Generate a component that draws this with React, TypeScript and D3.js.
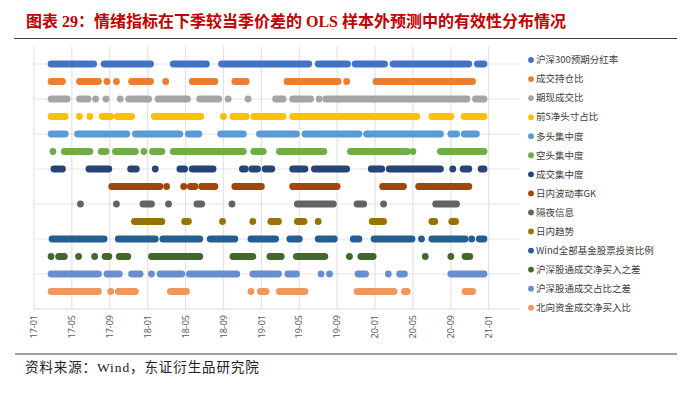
import * as d3 from 'd3';

// months counted from 2017-01; each pair is a run of consecutive effective dates [from, to]
const hs300Dividend = [[1.8, 6.3], [7.4, 12.3], [14.7, 18.2], [19.8, 29.0], [30.0, 33.1], [33.9, 37.0], [37.9, 45.9], [46.8, 47.5]];
const volumeOiRatio = [[1.8, 3.0], [4.8, 6.8], [7.7, 7.7], [8.7, 8.7], [10.3, 12.3], [13.9, 13.9], [16.7, 19.1], [21.2, 22.4], [26.7, 32.1], [33.0, 33.0], [36.1, 46.3]];
const futSpotRatio = [[1.8, 3.5], [4.8, 5.7], [6.5, 6.5], [7.6, 7.6], [9.1, 9.1], [10.0, 12.1], [13.1, 16.2], [17.5, 19.5], [20.5, 20.5], [22.6, 22.6], [25.5, 26.3], [27.3, 29.2], [30.1, 30.1], [30.8, 45.7], [46.6, 47.5]];
const top5NetShare = [[1.8, 3.3], [4.8, 4.8], [5.9, 5.9], [7.2, 8.1], [8.8, 10.3], [12.7, 17.6], [20.0, 20.0], [21.0, 22.4], [23.2, 26.3], [27.3, 40.4], [42.0, 44.0], [45.4, 47.5]];
const longConc = [[1.8, 3.3], [4.6, 9.8], [10.7, 15.4], [16.3, 17.4], [19.7, 22.1], [23.8, 27.7], [28.6, 34.3], [35.1, 42.9], [44.0, 44.6], [45.4, 46.7]];
const shortConc = [[2.0, 2.0], [3.2, 5.9], [7.1, 7.6], [8.6, 10.7], [11.6, 11.6], [12.5, 13.5], [14.7, 22.1], [23.2, 24.2], [25.9, 30.6], [33.4, 39.4], [40.0, 40.0], [42.9, 47.5]];
const tradeConc = [[2.1, 3.0], [5.8, 7.9], [10.2, 10.8], [12.8, 12.8], [15.4, 15.9], [16.7, 18.9], [22.0, 22.3], [23.0, 23.6], [24.4, 25.1], [27.3, 28.6], [29.6, 33.0], [35.6, 36.7], [37.5, 42.9], [44.2, 44.2], [45.3, 45.9], [47.2, 47.5]];
const gkVol = [[8.2, 13.3], [14.0, 14.0], [15.8, 15.8], [16.5, 17.0], [17.7, 19.1], [21.2, 24.0], [27.3, 32.0], [36.8, 39.0], [40.6, 45.9]];
const overnightInfo = [[4.9, 4.9], [8.7, 8.7], [11.5, 12.4], [14.2, 14.2], [17.2, 17.7], [20.9, 20.9], [27.8, 31.6], [34.1, 34.8], [36.9, 36.9], [42.4, 44.6]];
const intradayTrend = [[10.6, 13.5], [15.9, 16.3], [19.9, 19.9], [23.1, 23.1], [25.0, 25.8], [27.8, 28.5], [30.0, 30.0], [35.7, 36.9], [42.0, 42.3], [44.1, 44.5]];
const windFundStock = [[1.9, 7.4], [8.9, 12.8], [13.6, 17.5], [18.6, 21.2], [22.9, 25.5], [27.0, 28.0], [30.0, 31.7], [33.7, 34.3], [35.9, 39.9], [40.9, 40.9], [42.0, 45.5], [46.2, 46.2], [47.0, 47.5]];
const connectNetDiff = [[1.8, 1.8], [2.6, 3.2], [4.7, 4.7], [6.4, 6.4], [7.5, 7.9], [9.0, 9.9], [12.4, 17.5], [21.0, 23.1], [24.9, 26.1], [27.7, 30.7], [33.3, 33.3], [34.5, 35.8], [41.3, 41.3], [44.0, 44.0], [45.5, 46.0]];
const connectShareDiff = [[1.8, 6.8], [7.7, 9.0], [10.3, 11.2], [12.4, 12.4], [13.3, 15.6], [16.4, 21.4], [23.1, 25.8], [26.8, 27.7], [30.3, 30.3], [31.2, 31.2], [34.2, 35.0], [37.4, 37.4], [38.6, 39.1], [44.0, 47.5]];
const northNetRatio = [[1.8, 6.8], [8.1, 8.1], [8.9, 10.7], [14.4, 16.1], [22.9, 22.9], [23.9, 24.5], [25.9, 28.6], [34.1, 38.0], [39.1, 39.4], [45.5, 46.3]];

const seriesNames = [
  '沪深300预期分红率', '成交持仓比', '期现成交比', '前5净头寸占比', '多头集中度', '空头集中度', '成交集中度',
  '日内波动率GK', '隔夜信息', '日内趋势', 'Wind全部基金股票投资比例', '沪深股通成交净买入之差', '沪深股通成交占比之差', '北向资金成交净买入比',
];
const seriesRuns = [
  hs300Dividend, volumeOiRatio, futSpotRatio, top5NetShare, longConc, shortConc, tradeConc,
  gkVol, overnightInfo, intradayTrend, windFundStock, connectNetDiff, connectShareDiff, northNetRatio,
];
const palette = [
  '#4472C4', '#ED7D31', '#A5A5A5', '#FFC000', '#5B9BD5', '#70AD47', '#264478',
  '#9E480E', '#636363', '#997300', '#255E91', '#43682B', '#698ED0', '#F1975A',
];
const tickMonths = [0, 4, 8, 12, 16, 20, 24, 28, 32, 36, 40, 44, 48];
const tickLabels = ['17-01', '17-05', '17-09', '18-01', '18-05', '18-09', '19-01', '19-05', '19-09', '20-01', '20-05', '20-09', '21-01'];

const W = 700;
const H = 393;
const font = '"Noto Sans CJK SC", "Noto Sans", sans-serif';
const serifFont = '"Liberation Serif", "Noto Sans CJK SC", serif';

export default function App() {
  const x = d3.scaleLinear().domain([0, 51.3]).range([34, 520]);
  const y = d3.scaleLinear().domain([0, 15]).range([309, 46.5]);
  const r = 3.4;
  const n = seriesNames.length;
  const rowValue = (i: number) => n - i;
  const legendY = d3.scaleLinear().domain([0, n - 1]).range([60, 307.7]);

  return (
    <svg width={W} height={H} style={{ position: 'absolute', left: 0, top: 0, background: '#fff' }}>
      {/* title */}
      <text x={26} y={27} fill="#C00000" fontSize={16} fontWeight="bold" fontFamily={serifFont}>
        图表 29：情绪指标在下季较当季价差的 OLS 样本外预测中的有效性分布情况
      </text>
      <line x1={14} x2={677} y1={38.5} y2={38.5} stroke="#3a3a3a" strokeWidth={1.2} />

      {/* grid */}
      {tickMonths.map((m) => (
        <line key={'v' + m} x1={x(m)} x2={x(m)} y1={y(15)} y2={y(0)} stroke="#E3E3E3" strokeWidth={1.2} />
      ))}
      {d3.range(2, 15, 2).map((v) => (
        <line key={'h' + v} x1={x(0)} x2={x(51.3)} y1={y(v)} y2={y(v)} stroke="#E3E3E3" strokeWidth={1.2} />
      ))}
      <line x1={x(0)} x2={x(51.3)} y1={y(0)} y2={y(0)} stroke="#D9D9D9" strokeWidth={1.2} />

      {/* runs of effective dates */}
      {seriesRuns.map((runs, i) => (
        <g key={seriesNames[i]} fill={palette[i]}>
          {runs.map(([a, b], j) => (
            <rect
              key={j}
              x={x(a) - r}
              y={y(rowValue(i)) - r}
              width={x(b) - x(a) + 2 * r}
              height={2 * r}
              rx={r}
              ry={r}
            />
          ))}
        </g>
      ))}

      {/* x tick labels */}
      {tickMonths.map((m, i) => (
        <text
          key={'t' + m}
          transform={`translate(${x(m)},315) rotate(-90)`}
          textAnchor="end"
          dy="0.35em"
          fontSize={9}
          fill="#595959"
          fontFamily='"Noto Sans", sans-serif'
        >
          {tickLabels[i]}
        </text>
      ))}

      {/* legend */}
      {seriesNames.map((name, i) => (
        <g key={'l' + name} transform={`translate(531,${legendY(i)})`}>
          <circle r={2.9} fill={palette[i]} />
          <text x={5} dy="0.35em" fontSize={9.5} fill="#404040" fontFamily={font}>
            {name}
          </text>
        </g>
      ))}

      {/* source */}
      <line x1={15} x2={677} y1={354} y2={354} stroke="#7f7f7f" strokeWidth={1.5} />
      <text x={25} y={372} fontSize={13.5} fill="#222" fontFamily={serifFont} letterSpacing={0.9}>
        资料来源：Wind，东证衍生品研究院
      </text>
    </svg>
  );
}
